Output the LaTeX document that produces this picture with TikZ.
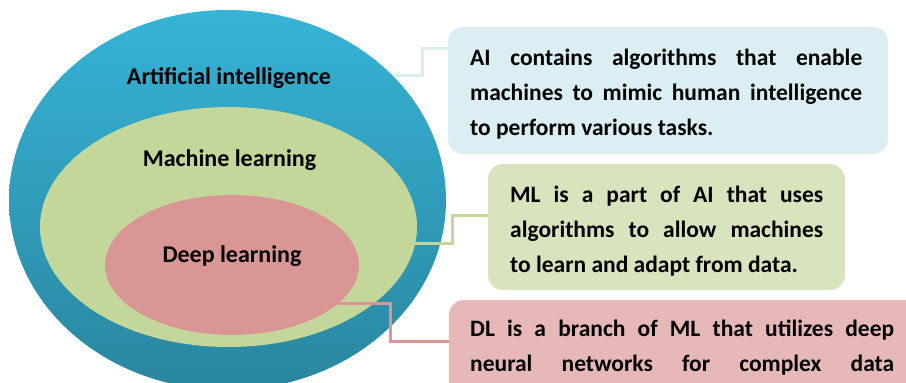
\documentclass[tikz,border=0pt]{standalone}
\usepackage{fontspec}
\setmainfont{Carlito}
\usetikzlibrary{shapes.geometric}

\definecolor{aitop}{HTML}{36B3D6}
\definecolor{aibot}{HTML}{2A869F}
\definecolor{mlfill}{HTML}{C4D79B}
\definecolor{dlfill}{HTML}{D99694}
\definecolor{aibox}{HTML}{DAEEF3}
\definecolor{mlbox}{HTML}{D7E4BD}
\definecolor{dlbox}{HTML}{E6B9B8}

\tikzset{
  blob/.style={ellipse, inner sep=0pt, draw=none},
  setlabel/.style={font=\bfseries\fontsize{24}{28}\selectfont, text=black, inner sep=0pt, anchor=base},
  infobox/.style={rounded corners=15pt, inner sep=0pt, draw=none},
  desc/.style={font=\bfseries\fontsize{23.5}{35}\selectfont, align=justify,
    inner sep=0pt, anchor=north west, text=black},
  wire/.style={line width=3pt}
}

\begin{document}
\begin{tikzpicture}[x=1pt, y=-1pt]
  \useasboundingbox (0,0) rectangle (906,383);
  \clip (0,0) rectangle (906,383);

  % nested sets
  \node[blob, top color=aitop, bottom color=aibot,
        minimum width=437pt, minimum height=380pt] (ai) at (227.5,200) {};
  \node[blob, fill=mlfill, minimum width=377pt, minimum height=240pt] (ml) at (228.5,227) {};
  \node[blob, fill=dlfill, minimum width=254pt, minimum height=140pt] (dl) at (232,265) {};

  \node[setlabel] (ailab) at (229,84) {Artificial intelligence};
  \node[setlabel] (mllab) at (229.5,166) {Machine learning};
  \node[setlabel] (dllab) at (232,262) {Deep learning};

  % description boxes
  \node[infobox, fill=aibox, minimum width=440pt, minimum height=127pt] (aitxt) at (668,90.5) {};
  \node[infobox, fill=mlbox, minimum width=357pt, minimum height=126pt] (mltxt) at (666.5,227) {};
  \node[infobox, fill=dlbox, minimum width=480pt, minimum height=130pt] (dltxt) at (689,365) {};

  \node[desc, text width=392pt] (aidesc) at (470,48.5)
    {AI contains algorithms that enable\linebreak machines to mimic human intelligence\linebreak to perform various tasks.};
  \node[desc, text width=313pt] (mldesc) at (510,185.5)
    {ML is a part of AI that uses\linebreak algorithms to allow machines\linebreak to learn and adapt from data.};
  \node[desc, text width=424pt] (dldesc) at (470,319.5)
    {DL is a branch of ML that utilizes deep\linebreak neural networks for complex data\linebreak};

  % connectors
  \coordinate (j1) at (422,48);
  \coordinate (j2) at (452,215);
  \coordinate (j3) at (390,341);
  \draw[wire, draw=aibox] (ai.37) -| (j1) -- (j1 -| aitxt.west);
  \draw[wire, draw=mlfill] (ml.-5) -| (j2) -- (j2 -| mltxt.west);
  \draw[wire, draw=dlfill] (dl.-20) -| (j3) -- (j3 -| dltxt.west);
\end{tikzpicture}
\end{document}
